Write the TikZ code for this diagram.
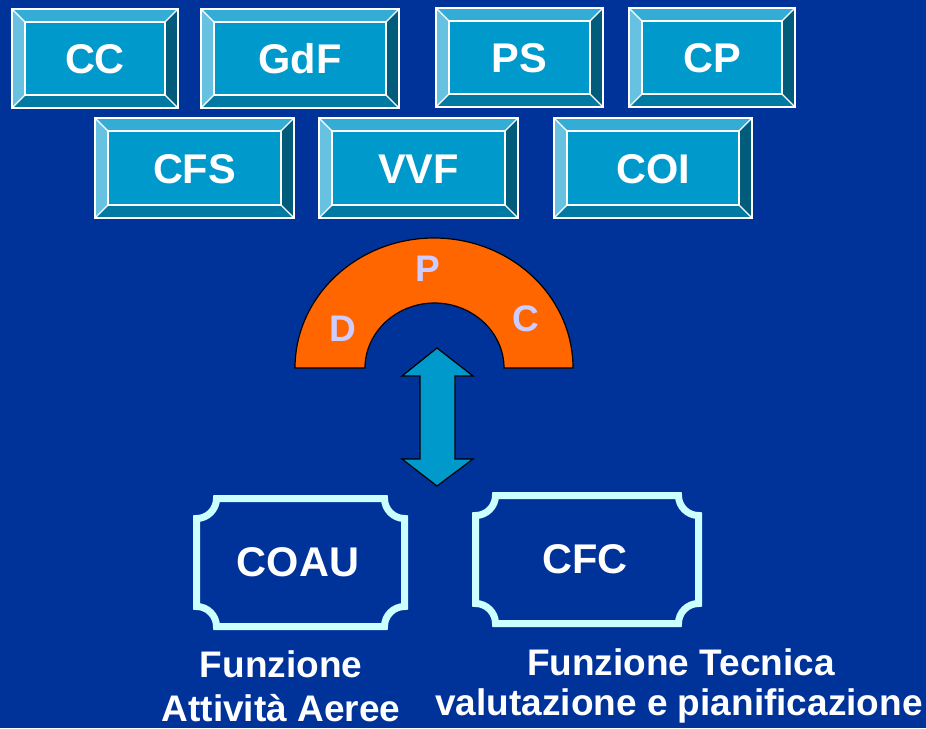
\documentclass[tikz,border=0pt]{standalone}
\usepackage{fontspec}
\setmainfont{Liberation Sans}
\definecolor{bgblue}{RGB}{0,51,153}
\definecolor{face}{RGB}{0,153,204}
\definecolor{bevtop}{RGB}{51,173,214}
\definecolor{bevleft}{RGB}{102,194,224}
\definecolor{bevbot}{RGB}{0,122,163}
\definecolor{bevright}{RGB}{0,92,122}
\definecolor{plaquec}{RGB}{204,255,255}
\definecolor{dpcorange}{RGB}{255,102,0}
\definecolor{lav}{RGB}{204,204,255}
\tikzset{
  boxtext/.style={text=white,inner sep=0pt,font=\fontsize{41.5}{48}\selectfont\bfseries},
  dpctext/.style={text=lav,inner sep=0pt,font=\fontsize{37}{42}\selectfont\bfseries},
  lbltext/.style={text=white,inner sep=0pt,font=\fontsize{37}{42}\selectfont\bfseries},
  bevline/.style={draw=white,line width=1.2pt},
  plaquestyle/.style={draw=plaquec,line width=7pt,line join=miter},
}
\newcommand\bevbox[6]{%
  \fill[bevtop] (#2,#3) -- (#4,#3) -- ({#4-13},{#3+13}) -- ({#2+13},{#3+13}) -- cycle;
  \fill[bevleft] (#2,#3) -- ({#2+13},{#3+13}) -- ({#2+13},{#5-13}) -- (#2,#5) -- cycle;
  \fill[bevbot] (#2,#5) -- ({#2+13},{#5-13}) -- ({#4-13},{#5-13}) -- (#4,#5) -- cycle;
  \fill[bevright] (#4,#3) -- (#4,#5) -- ({#4-13},{#5-13}) -- ({#4-13},{#3+13}) -- cycle;
  \fill[face] ({#2+13},{#3+13}) rectangle ({#4-13},{#5-13});
  \draw[bevline] (#2,#3) rectangle (#4,#5);
  \draw[bevline] ({#2+13},{#3+13}) rectangle ({#4-13},{#5-13});
  \draw[bevline] (#2,#3) -- ({#2+13},{#3+13});
  \draw[bevline] (#4,#3) -- ({#4-13},{#3+13});
  \draw[bevline] (#2,#5) -- ({#2+13},{#5-13});
  \draw[bevline] (#4,#5) -- ({#4-13},{#5-13});
  \node[boxtext,anchor=base] (#1) at ({(#2+#4)/2},{(#3+#5)/2+15}) {#6};
}
\newcommand\plaque[4]{%
  \draw[plaquestyle] ({#1+20},#2) -- ({#3-20},#2)
    .. controls ({#3-20},{#2+11}) and ({#3-11},{#2+20}) .. (#3,{#2+20})
    -- (#3,{#4-20})
    .. controls ({#3-11},{#4-20}) and ({#3-20},{#4-11}) .. ({#3-20},#4)
    -- ({#1+20},#4)
    .. controls ({#1+20},{#4-11}) and ({#1+11},{#4-20}) .. (#1,{#4-20})
    -- (#1,{#2+20})
    .. controls ({#1+11},{#2+20}) and ({#1+20},{#2+11}) .. ({#1+20},#2)
    -- cycle;
}
\begin{document}
\begin{tikzpicture}[x=1pt,y=-1pt]
\fill[bgblue] (0,0) rectangle (926,728);
\useasboundingbox (0,0) rectangle (926,728);

% top row
\bevbox{cc}{12}{9}{178}{108}{CC}
\bevbox{gdf}{201}{9}{399}{108}{GdF}
\bevbox{ps}{436}{8}{603}{107}{PS}
\bevbox{cp}{629}{8}{795}{107}{CP}
% second row
\bevbox{cfs}{95}{118}{294}{218}{CFS}
\bevbox{vvf}{319}{118}{518}{218}{VVF}
\bevbox{coi}{554}{118}{752}{218}{COI}

% DPC half ring
\filldraw[fill=dpcorange,draw=black,line width=1.2pt]
  (295,368) .. controls (295,296.2) and (357.3,238) .. (434,238)
  .. controls (510.7,238) and (573,296.2) .. (573,368)
  -- (504,368)
  .. controls (504,332.1) and (472.4,303) .. (434.5,303)
  .. controls (396.6,303) and (365,332.1) .. (365,368)
  -- cycle;
\node[dpctext,anchor=base] (P) at (428,281.5) {P};
\node[dpctext,anchor=base] (D) at (343,341.5) {D};
\node[dpctext,anchor=base] (C) at (525.5,331.5) {C};

% double arrow
\filldraw[fill=face,draw=black,line width=1.2pt]
  (437,348) -- (473,376) -- (455,376) -- (455,459) -- (473,459) -- (437,486)
  -- (402,459) -- (420,459) -- (420,376) -- (402,376) -- cycle;

% plaques
\plaque{196.5}{498.5}{404.5}{626.5}
\plaque{475.5}{495.5}{698.5}{623.5}
\node[boxtext,anchor=base] (coau) at (298,576.5) {COAU};
\node[boxtext,anchor=base] (cfc) at (585,573.5) {CFC};

% labels
\node[lbltext,anchor=base] (fa1) at (281,677) {Funzione};
\node[lbltext,anchor=base] (fa2) at (281,721.5) {Attività Aeree};
\node[lbltext,anchor=base] (ft1) at (681,675) {Funzione Tecnica};
\node[lbltext,anchor=base] (ft2) at (679,715.5) {valutazione e pianificazione};
\end{tikzpicture}
\end{document}
